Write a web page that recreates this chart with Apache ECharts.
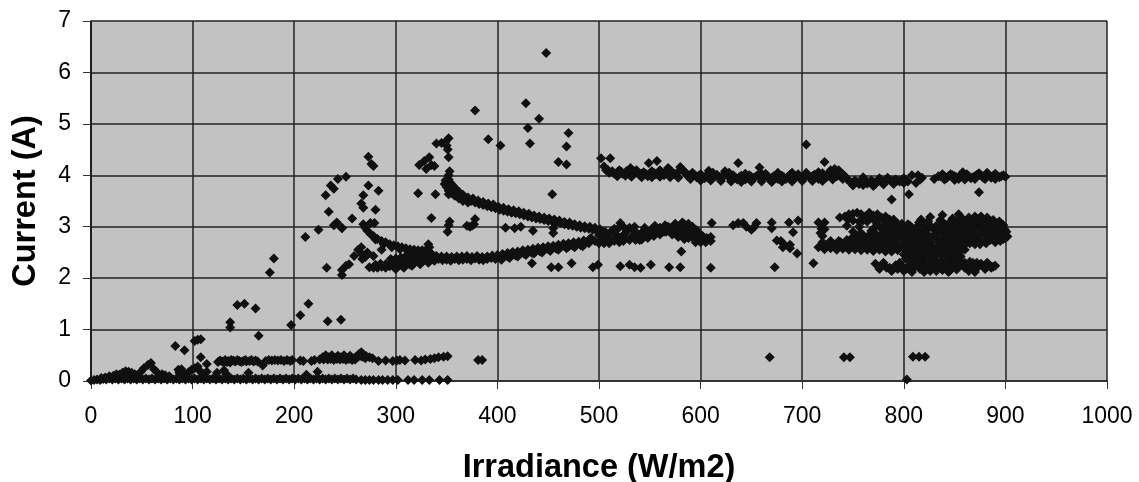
<!DOCTYPE html>
<html><head><meta charset="utf-8">
<style>html,body{margin:0;padding:0;background:#fff}#c{width:1139px;height:482px}</style>
<script src="https://cdn.jsdelivr.net/npm/echarts@6/dist/echarts.min.js"></script>
</head><body><div id="c"></div>
<script>
const xTitle = "Irradiance (W/m2)";
const yTitle = "Current (A)";
const baseRow = [[0,0.01],[3,0.02],[6,0.03],[9,0.02],[12,0.04],[15,0.03],[18,0.05],[21,0.03],[24,0.05],[27,0.03],[30,0.05],[33,0.03],[36,0.05],[39,0.03],[42,0.05],[45,0.03],[48,0.05],[51,0.03],[54,0.05],[57,0.03],[60,0.05],[63,0.03],[66,0.05],[69,0.03],[72,0.05],[75,0.03],[78,0.05],[81,0.03],[84,0.05],[87,0.03],[90,0.05],[93,0.03],[96,0.05],[99,0.03],[102,0.05],[105,0.03],[108,0.05],[111,0.03],[114,0.05],[117,0.03],[120,0.05],[123,0.03],[126,0.05],[129,0.03],[132,0.05],[135,0.03],[138,0.05],[141,0.03],[144,0.05],[147,0.03],[150,0.05],[153,0.03],[156,0.05],[159,0.03],[162,0.05],[165,0.03],[168,0.05],[171,0.03],[174,0.05],[177,0.03],[180,0.05],[183,0.03],[186,0.05],[189,0.03],[192,0.05],[195,0.03],[198,0.05],[201,0.03],[204,0.05],[207,0.03],[210,0.05],[213,0.03],[216,0.05],[219,0.03],[222,0.05],[225,0.03],[228,0.05],[231,0.03],[234,0.05],[237,0.03],[240,0.05],[243,0.03],[246,0.05],[249,0.03],[252,0.05],[255,0.03],[258,0.05],[261,0.03],[266,0.02],[270,0.02],[274,0.02],[278,0.02],[283,0.02],[287,0.02],[292,0.02],[297,0.02],[302,0.02],[312,0.02],[318,0.02],[326,0.02],[333,0.02],[343,0.02],[351,0.02]];
const lowHump = [[10,0.06],[14,0.07],[18,0.09],[22,0.1],[25,0.13],[28,0.12],[31,0.16],[34,0.19],[37,0.18],[40,0.16],[43,0.13],[46,0.12],[49,0.18],[52,0.25],[56,0.31],[59,0.35],[62,0.23],[65,0.17],[70,0.13],[73,0.11],[77,0.09],[86,0.22],[89,0.23],[87,0.16],[92,0.12],[96,0.17],[99,0.22],[102,0.25],[105,0.28],[107,0.2],[110,0.14],[114,0.33],[114,0.18],[124,0.16],[131,0.21],[133,0.14],[155,0.16],[169,0.3],[212,0.12],[223,0.18]];
const lowRow = [[125,0.37],[129,0.38],[132,0.41],[135,0.39],[138,0.41],[142,0.38],[146,0.39],[150,0.39],[153,0.38],[156,0.39],[160,0.38],[164,0.38],[172,0.39],[175,0.41],[178,0.4],[181,0.41],[184,0.4],[187,0.41],[190,0.39],[193,0.41],[196,0.39],[198,0.41],[206,0.4],[209,0.39],[217,0.39],[220,0.41],[225,0.42],[228,0.46],[231,0.5],[234,0.46],[237,0.5],[240,0.45],[243,0.49],[246,0.46],[249,0.5],[252,0.45],[255,0.49],[258,0.44],[261,0.47],[264,0.53],[266,0.56],[268,0.52],[271,0.48],[274,0.46],[277,0.44],[283,0.39],[290,0.4],[297,0.39],[301,0.4],[304,0.41],[309,0.4],[319,0.41],[325,0.4],[329,0.42],[334,0.43],[338,0.44],[342,0.46],[347,0.47],[351,0.48],[381,0.41],[385,0.41]];
const lowRowFill = [[127,0.4],[131,0.36],[134,0.37],[137,0.36],[140,0.4],[144,0.41],[148,0.37],[152,0.41],[158,0.41],[162,0.4],[229,0.42],[233,0.42],[236,0.43],[239,0.41],[242,0.43],[245,0.42],[248,0.43],[251,0.41],[254,0.43],[257,0.41],[260,0.42],[263,0.47],[265,0.49],[267,0.47],[270,0.44]];
const scatterLeft = [[83,0.68],[92,0.6],[102,0.78],[105,0.8],[108,0.81],[108,0.46],[137,1.14],[137,1.04],[144,1.48],[151,1.5],[162,1.41],[165,0.88],[176,2.11],[180,2.38],[197,1.09],[206,1.28],[214,1.5],[233,1.16],[246,1.19],[211,2.8],[224,2.94],[232,2.2],[247,2.06],[247,2.16],[251,2.24],[254,2.27],[259,2.43],[266,2.6],[263,2.55],[267,2.37],[270,2.41],[241,3.06],[247,2.98],[279,3.07],[231,3.61],[236,3.8],[239,3.74],[243,3.93],[251,3.97],[234,3.29],[242,3.08],[239,3.03],[247,2.97],[257,3.16],[273,4.36],[276,4.22],[278,4.18],[273,3.8],[268,3.61],[266,3.45],[268,3.37],[283,3.7],[280,3.33],[275,3.07],[278,2.43],[286,2.55],[272,2.5],[267,2.46]];
const scatterTop = [[323,4.2],[328,4.28],[333,4.35],[338,4.18],[335,4.2],[330,4.12],[340,4.62],[345,4.63],[349,4.65],[350,4.58],[352,4.72],[351,4.5],[352,4.35],[322,3.65],[339,3.63],[352,3.63],[335,3.17],[353,3.1],[352,3.03],[378,3.15],[375,3.02],[370,3.02],[378,5.26],[351,2.9],[391,4.7],[403,4.58],[428,5.4],[430,4.92],[432,4.62],[441,5.1],[448,6.38],[454,3.63],[460,4.26],[468,4.21],[468,4.56],[470,4.82],[377,3.05],[373,3.0],[408,2.98],[417,2.97],[423,3.0],[435,2.92],[455,2.97],[455,2.88],[434,2.29],[453,2.21],[460,2.21],[473,2.29],[494,2.21],[499,2.26],[502,4.33],[511,4.33],[549,4.24],[557,4.28],[637,4.24],[658,4.15],[722,4.26],[704,4.6],[788,3.53],[805,3.63],[874,3.67]];
const scatterMid = [[521,3.07],[611,3.07],[637,3.07],[632,3.03],[642,3.07],[645,3.0],[650,2.94],[655,3.07],[653,3.0],[670,3.08],[670,2.97],[687,3.08],[696,3.12],[691,2.89],[675,2.73],[679,2.72],[681,2.68],[688,2.65],[681,2.6],[688,2.58],[695,2.48],[673,2.21],[711,2.29],[716,3.08],[722,3.08],[719,2.96],[718,2.88],[521,2.23],[530,2.26],[535,2.21],[541,2.2],[551,2.26],[569,2.21],[580,2.21],[610,2.2],[581,2.52],[668,0.46],[741,0.46],[747,0.46],[803,0.03],[809,0.47],[815,0.47],[821,0.47]];
const curveA = [[268,3.05],[270,2.98],[272,2.92],[275,2.86],[278,2.82],[282,2.76],[286,2.72],[290,2.7],[294,2.66],[298,2.64],[302,2.62],[306,2.6],[310,2.58],[314,2.56],[318,2.55],[322,2.54],[326,2.54],[330,2.55],[333,2.6],[334,2.5],[280,2.75],[288,2.66],[296,2.6],[304,2.56],[312,2.52],[320,2.5],[328,2.48],[332,2.66]];
const curveB = [[353,4.08],[352,4],[350,3.92],[350,3.85],[352,3.8],[354,3.74],[356,3.7],[358,3.66],[360,3.62],[363,3.58],[366,3.55],[370,3.52],[374,3.5],[378,3.47],[382,3.44],[386,3.42],[390,3.4],[394,3.38],[398,3.36],[402,3.33],[406,3.31],[410,3.29],[414,3.27],[418,3.26],[422,3.24],[426,3.22],[430,3.2],[434,3.18],[438,3.16],[442,3.15],[446,3.13],[450,3.11],[454,3.1],[458,3.08],[462,3.07],[466,3.05],[470,3.03],[474,3.02],[478,3],[482,2.98],[486,2.97],[490,2.96],[494,2.94],[498,2.92],[502,2.9],[506,2.88],[510,2.87]];
const curveB2 = [[352,3.92],[354,3.85],[356,3.8],[359,3.74],[362,3.68],[366,3.62],[371,3.57],[376,3.55],[381,3.51],[386,3.48],[391,3.45],[396,3.43],[401,3.39],[406,3.37],[411,3.34],[416,3.32],[421,3.3],[426,3.27],[431,3.25],[436,3.22],[441,3.2],[446,3.18],[451,3.16],[456,3.14],[461,3.12],[466,3.09],[471,3.08],[476,3.05],[481,3.03],[486,3.01],[491,3],[496,2.98],[501,2.95],[349,3.9],[348,3.83],[350,3.77],[352,3.7],[355,3.65],[358,3.6],[362,3.55],[366,3.5],[371,3.47]];
const curveC = [[274,2.21],[278,2.2],[282,2.2],[286,2.22],[290,2.2],[294,2.23],[298,2.22],[302,2.25],[306,2.24],[310,2.27],[314,2.26],[318,2.3],[322,2.33],[326,2.32],[330,2.36],[334,2.35],[338,2.34],[342,2.37],[346,2.35],[350,2.36],[354,2.34],[358,2.37],[362,2.35],[366,2.36],[370,2.37],[374,2.35],[378,2.38],[382,2.36],[386,2.35],[390,2.37],[394,2.39],[398,2.37],[402,2.4],[406,2.41],[410,2.42],[414,2.45],[418,2.44],[422,2.47],[426,2.48],[430,2.5],[434,2.49],[438,2.53],[442,2.52],[446,2.55],[450,2.56],[454,2.58],[458,2.57],[462,2.6],[466,2.62],[470,2.61],[474,2.63],[478,2.65],[482,2.64],[486,2.67],[490,2.68]];
const curveC2 = [[280,2.26],[285,2.28],[290,2.27],[295,2.3],[300,2.32],[305,2.3],[310,2.34],[315,2.36],[320,2.4],[325,2.42],[330,2.44],[335,2.45],[340,2.43],[345,2.42],[350,2.42],[355,2.41],[360,2.42],[365,2.42],[370,2.43],[375,2.41],[380,2.43],[385,2.41],[390,2.42],[395,2.44],[400,2.45],[405,2.47],[410,2.49],[415,2.51],[420,2.52],[425,2.54],[430,2.55],[435,2.57],[440,2.59],[445,2.6],[450,2.62],[455,2.63],[460,2.65],[465,2.67],[470,2.68],[475,2.7],[480,2.71],[485,2.73],[490,2.74],[295,2.37],[300,2.38],[305,2.4],[310,2.43],[315,2.45],[320,2.47],[325,2.46],[330,2.5],[300,2.18],[308,2.2],[316,2.24],[324,2.27],[332,2.3],[404,2.36],[412,2.39],[420,2.42],[428,2.45],[436,2.48],[444,2.5],[452,2.53],[460,2.55],[468,2.58],[476,2.6],[484,2.62]];
const midBand = [[492,2.78],[496,2.72],[500,2.68],[504,2.74],[508,2.8],[512,2.74],[516,2.86],[520,2.78],[524,2.84],[528,2.92],[532,2.8],[536,2.9],[540,2.82],[544,2.92],[548,2.84],[552,2.95],[556,2.88],[560,2.98],[564,2.9],[568,3],[572,2.92],[576,3.02],[580,2.96],[584,3.05],[588,3.06],[592,3],[596,2.93],[500,2.84],[506,2.9],[512,2.9],[518,2.95],[524,2.72],[530,2.98],[536,2.74],[542,2.75],[548,2.78],[554,2.82],[560,2.85],[566,2.9],[572,2.85],[578,2.8],[584,2.84],[590,2.9],[594,2.85],[598,2.88],[602,2.82],[606,2.78],[610,2.8],[608,2.75],[604,2.73],[600,2.76],[596,2.78],[592,2.8],[588,2.78],[584,2.76],[505,2.68],[510,2.68],[515,2.72],[520,2.7],[525,2.78],[530,2.74],[535,2.82],[540,2.74],[545,2.86],[550,2.9],[555,2.94],[560,2.92],[565,2.96],[570,2.97],[575,2.92],[580,2.88],[585,2.92],[590,2.95],[595,2.7],[600,2.7],[605,2.7],[610,2.72],[515,2.96],[525,2.98],[535,3],[545,2.98],[555,3.02],[565,3.03],[575,3.06],[582,3.08]];
const topBand = [[505,4.17],[507,4.1],[510,4.05],[513,4.08],[516,4.02],[520,4.1],[523,4.03],[527,4.08],[531,4.14],[534,4.04],[537,4.1],[540,4],[544,4.06],[548,3.98],[552,4.08],[556,4.02],[560,4.1],[564,4],[568,4.14],[572,4.06],[576,4],[580,4.16],[584,4.08],[588,3.97],[592,4.05],[596,3.96],[600,4.02],[604,3.94],[608,4.09],[612,3.95],[616,4.01],[620,3.93],[624,4.08],[628,3.96],[632,4],[636,3.92],[640,3.99],[644,3.92],[648,4],[652,3.94],[656,4],[660,3.93],[664,4.03],[668,3.92],[672,3.98],[676,3.93],[680,3.99],[684,3.93],[688,4.01],[692,3.93],[696,4.02],[700,3.93],[704,4.01],[708,3.95],[712,4.01],[716,3.93],[720,4.04],[724,3.96],[728,4.1],[732,4.12],[736,4.1],[740,4.02],[728,4],[734,3.98],[744,3.93],[748,3.85],[752,3.9],[756,3.83],[760,3.96],[764,3.84],[768,3.9],[772,3.83],[776,3.94],[780,3.86],[784,3.95],[788,3.88],[792,3.92],[796,3.88],[800,3.94],[804,3.88],[808,4],[814,4],[816,3.92],[812,3.85],[818,3.95],[830,3.93],[834,3.98],[838,4.02],[842,3.94],[846,4.02],[850,3.98],[854,3.93],[858,4.06],[862,4.02],[866,3.94],[870,3.98],[874,4.04],[878,3.95],[882,4.05],[886,3.95],[890,4.03],[894,3.96],[898,4],[900,3.97]];
const topBandFill = [[509,4.1],[514,4.05],[518,4.06],[522,4.07],[526,4.04],[530,4.08],[534,4.09],[538,4.05],[542,4.03],[546,4.03],[550,4.04],[554,4.05],[558,4.05],[562,4.05],[566,4.06],[570,4.1],[574,4.03],[578,4.07],[582,4.11],[586,4.02],[590,4.01],[594,4.01],[598,3.99],[602,3.98],[606,4],[610,4.01],[614,3.98],[618,3.97],[622,4],[626,4.01],[630,3.98],[634,3.96],[638,3.96],[642,3.95],[646,3.96],[650,3.97],[654,3.97],[658,3.97],[662,3.98],[666,3.97],[670,3.95],[674,3.95],[678,3.96],[682,3.96],[686,3.97],[690,3.97],[694,3.97],[698,3.97],[702,3.97],[706,3.98],[710,3.98],[714,3.97],[718,3.98],[722,4],[726,4.04],[730,4.06],[734,4.06],[738,4.05],[742,3.98],[746,3.9],[750,3.87],[754,3.87],[758,3.89],[762,3.9],[766,3.87],[770,3.87],[774,3.88],[778,3.9],[782,3.9],[786,3.91],[790,3.9],[794,3.9],[798,3.91],[802,3.91],[836,3.98],[840,3.98],[844,3.98],[848,4],[852,3.96],[856,4],[860,4.01],[864,3.98],[868,3.96],[872,4.01],[876,4],[880,4],[884,4],[888,3.99],[892,3.99],[896,3.98]];
const topBandEdge = [[518,3.98],[526,3.99],[532,3.97],[542,3.96],[552,3.96],[560,3.97],[570,3.96],[578,3.95],[590,3.93],[600,3.9],[610,3.9],[620,3.89],[630,3.88],[640,3.87],[650,3.88],[660,3.88],[670,3.87],[680,3.88],[690,3.88],[700,3.89],[710,3.89],[720,3.89],[730,3.92],[740,3.93],[750,3.8],[760,3.81],[770,3.79],[780,3.82],[790,3.83],[800,3.85],[612,4.05],[628,4.05],[644,4.03],[660,4.03],[676,4.05],[690,4.05],[704,4.05],[716,4.06],[840,3.92],[850,3.91],[860,3.92],[870,3.93],[880,3.93],[890,3.93]];
const clusterArc = [[737,3.18],[742,3.2],[746,3.24],[750,3.25],[754,3.27],[758,3.24],[762,3.2],[766,3.27],[770,3.22],[774,3.24],[778,3.18],[782,3.2],[786,3.14],[790,3.14],[794,3.06],[798,3.06],[802,3],[806,3.02],[815,3.08],[824,3.1],[836,3.13],[832,3.02],[846,3.1],[858,3.15],[864,3.18],[870,3.2],[876,3.2],[882,3.18],[888,3.13],[894,3.1],[898,3.03],[902,2.81],[900,2.78],[901,2.9],[817,3.14],[826,3.19],[838,3.23],[848,3.16],[854,3.24]];
const clusterMain = [[716,2.6],[720,2.7],[724,2.64],[728,2.72],[732,2.6],[736,2.72],[740,2.66],[744,2.74],[748,2.62],[752,2.7],[756,2.6],[760,2.7],[764,2.62],[768,2.68],[772,2.6],[776,2.72],[780,2.63],[784,2.7],[788,2.58],[792,2.68],[796,2.6],[800,2.7],[720,2.82],[722,2.95],[744,3.02],[750,2.9],[756,3],[760,2.82],[764,3.1],[768,2.92],[770,2.78],[774,3.05],[778,2.85],[782,3.02],[780,2.94],[786,2.8],[788,3],[792,2.9],[794,2.78],[798,2.94],[802,2.82],[804,2.72],[808,2.86],[810,2.62],[812,2.95],[816,2.76],[818,2.9],[820,2.62],[824,2.84],[826,2.7],[830,2.94],[832,2.78],[834,2.62],[838,2.86],[840,2.72],[842,2.96],[846,2.64]];
const clusterFillMain = [[722,2.62],[726,2.68],[730,2.66],[734,2.64],[738,2.7],[742,2.62],[746,2.68],[750,2.64],[754,2.66],[758,2.66],[762,2.66],[766,2.64],[770,2.66],[774,2.65],[778,2.67],[782,2.62],[786,2.64],[790,2.62],[794,2.64],[798,2.66],[760,3.12],[765,3.18],[770,3.14],[775,3.16],[780,3.12],[785,3.08],[790,3.06],[795,2.98],[772,3.0],[777,2.98],[782,2.9],[787,2.92],[766,2.84],[772,2.87],[776,2.78],[782,2.78],[788,2.72],[790,2.82],[796,2.86],[800,2.76],[752,2.82],[756,2.76],[748,2.76],[764,2.74],[758,2.88],[750,3.12],[745,3.14],[756,3.1],[804,2.93],[808,2.76],[812,2.84],[816,2.68],[820,2.8],[824,2.72],[828,2.8],[832,2.88],[836,2.72],[840,2.8],[844,2.88],[846,2.76],[806,2.66],[812,2.72],[816,2.58],[822,2.68],[828,2.62],[834,2.7],[840,2.64],[844,2.7],[802,2.62],[806,2.56],[812,2.56],[818,2.5],[824,2.58],[830,2.56],[836,2.56],[842,2.62],[848,2.6],[854,2.56],[722,2.56],[728,2.58],[734,2.55],[740,2.57],[746,2.55],[752,2.56],[758,2.54],[764,2.55],[770,2.53],[776,2.55],[782,2.52],[788,2.52],[794,2.54],[804,3.05],[808,2.98],[814,3.02],[820,3],[826,3.02],[836,3.03],[840,3.06],[844,3.02],[822,2.92],[836,2.94],[848,3.12],[852,3.12]];
const clusterBlob = [[848,3.05],[848,2.95],[848,2.86],[848,2.76],[849,2.66],[854,3.08],[854,3],[854,2.9],[854,2.8],[854,2.7],[854,2.6],[859,3.1],[860,3.02],[859,2.94],[860,2.84],[859,2.74],[860,2.65],[864,3.12],[865,3.05],[864,2.96],[865,2.88],[864,2.78],[865,2.68],[869,3.13],[870,3.04],[869,2.96],[870,2.86],[869,2.76],[870,2.66],[875,3.13],[875,3.05],[875,2.95],[875,2.85],[874,2.75],[875,2.66],[880,3.12],[880,3.03],[880,2.93],[880,2.84],[880,2.74],[881,2.68],[885,3.08],[885,3],[885,2.9],[885,2.82],[885,2.74],[890,3.05],[890,2.96],[890,2.87],[890,2.78],[890,2.7],[895,3],[895,2.9],[895,2.8],[895,2.72],[899,2.95],[899,2.85],[898,2.76],[843,2.8],[843,2.68],[838,2.6],[836,2.5],[842,2.56],[848,2.52],[854,2.5],[860,2.55],[844,2.44],[838,2.42],[832,2.5],[826,2.52],[820,2.52],[814,2.5],[810,2.48],[804,2.5],[800,2.58],[806,2.42],[812,2.4],[820,2.42],[828,2.4],[850,2.42],[856,2.42],[800,2.46],[808,2.34],[814,2.33],[820,2.34],[832,2.33],[838,2.35],[846,2.36],[852,2.36],[802,2.38],[816,2.44],[824,2.46],[832,2.44],[840,2.48],[846,2.46]];
const clusterLow = [[772,2.28],[776,2.18],[780,2.3],[783,2.2],[788,2.14],[792,2.25],[796,2.3],[800,2.14],[804,2.23],[808,2.12],[812,2.3],[816,2.18],[820,2.12],[824,2.28],[828,2.2],[832,2.14],[836,2.3],[840,2.2],[844,2.12],[848,2.26],[852,2.17],[856,2.32],[860,2.2],[864,2.14],[868,2.3],[872,2.2],[876,2.28],[880,2.18],[884,2.26],[888,2.22],[870,2.12],[810,2.2],[826,2.33],[842,2.3],[850,2.33],[778,2.25],[794,2.18],[786,2.2],[790,2.19],[798,2.22],[802,2.18],[806,2.16],[814,2.24],[818,2.22],[822,2.2],[826,2.14],[830,2.25],[834,2.2],[838,2.16],[842,2.24],[846,2.16],[850,2.22],[854,2.22],[858,2.26],[862,2.24],[866,2.2],[870,2.24],[874,2.24],[878,2.24],[882,2.22],[886,2.2],[890,2.24],[860,2.3],[865,2.32],[872,2.3],[882,2.3]];

const series = [baseRow, lowHump, lowRow, lowRowFill, scatterLeft, scatterTop, scatterMid, curveA, curveB, curveB2, curveC, curveC2, midBand, topBand, topBandFill, topBandEdge, clusterArc, clusterMain, clusterFillMain, clusterBlob, clusterLow];
const chart = echarts.init(document.getElementById('c'), null, {renderer:'canvas'});
const font = '"Liberation Sans", Arial, sans-serif';
chart.setOption({
  animation:false,
  backgroundColor:'#ffffff',
  grid:{left:91,right:32,top:21,bottom:101,backgroundColor:'#c2c2c2',show:true,borderWidth:0,outerBoundsMode:'none'},
  xAxis:{type:'value',min:0,max:1000,interval:100,name:xTitle,nameLocation:'middle',nameGap:71,
    nameTextStyle:{fontFamily:font,fontWeight:'bold',fontSize:32.5,color:'#000'},
    axisLine:{show:true,onZero:false,lineStyle:{color:'#333',width:2}},
    axisTick:{show:true,length:8,inside:false,lineStyle:{color:'#333',width:1}},
    axisLabel:{fontFamily:font,fontSize:23,color:'#000',margin:24,formatter:v=>String(v)},
    splitLine:{show:true,lineStyle:{color:'#222',width:1.5,type:'solid'}}},
  yAxis:{type:'value',min:0,max:7,interval:1,name:yTitle,nameLocation:'middle',nameGap:48,
    nameTextStyle:{fontFamily:font,fontWeight:'bold',fontSize:32.5,color:'#000'},
    axisLine:{show:true,lineStyle:{color:'#111',width:1.5}},
    axisTick:{show:true,length:8,inside:false,lineStyle:{color:'#333',width:1}},
    axisLabel:{fontFamily:font,fontSize:23,color:'#000',margin:20},
    splitLine:{show:true,lineStyle:{color:'#222',width:1.5,type:'solid'}}},
  series: series.map(d=>({type:'scatter',data:d,symbol:'diamond',symbolSize:[10,10],
    itemStyle:{color:'#101010',opacity:1},silent:true,clip:false}))
});
</script></body></html>
